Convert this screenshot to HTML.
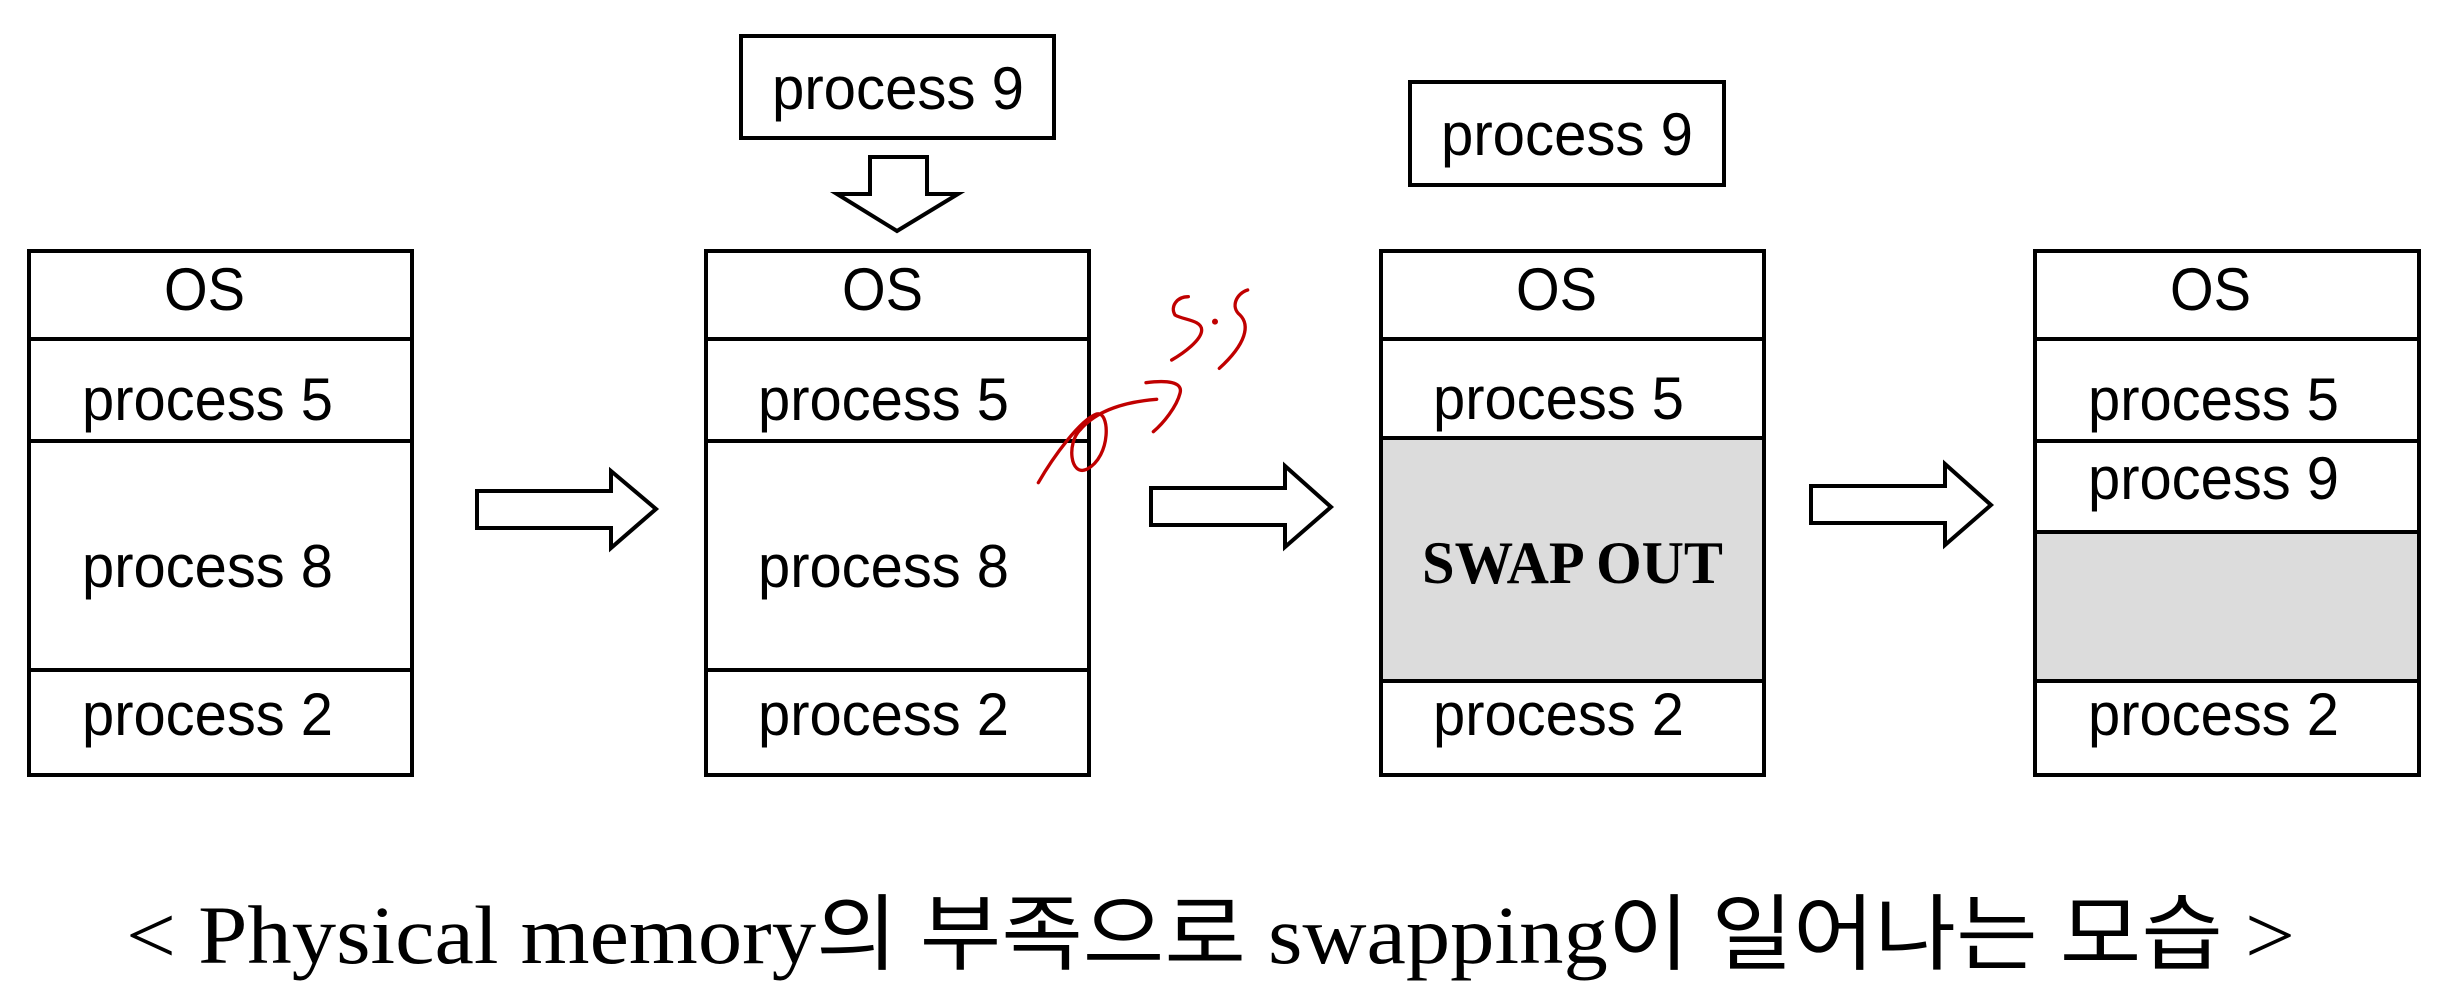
<!DOCTYPE html>
<html><head><meta charset="utf-8"><style>html,body{margin:0;padding:0;background:#fff}svg{display:block}</style></head>
<body>
<svg xmlns="http://www.w3.org/2000/svg" width="2456" height="1000" viewBox="0 0 2456 1000">
<rect width="2456" height="1000" fill="#fff"/>
<g fill="none" stroke="#000" stroke-width="4">
  <rect x="29" y="251" width="383" height="524" fill="#fff"/>
  <line x1="29" y1="339" x2="412" y2="339"/>
  <line x1="29" y1="441" x2="412" y2="441"/>
  <line x1="29" y1="670" x2="412" y2="670"/>
  <rect x="706" y="251" width="383" height="524" fill="#fff"/>
  <line x1="706" y1="339" x2="1089" y2="339"/>
  <line x1="706" y1="441" x2="1089" y2="441"/>
  <line x1="706" y1="670" x2="1089" y2="670"/>
  <rect x="1381" y="251" width="383" height="524" fill="#fff"/>
  <rect x="1381" y="438" width="383" height="243" fill="#dcdcdc"/>
  <line x1="1381" y1="339" x2="1764" y2="339"/>
  <rect x="2035" y="251" width="384" height="524" fill="#fff"/>
  <rect x="2035" y="532" width="384" height="149" fill="#dcdcdc"/>
  <line x1="2035" y1="339" x2="2419" y2="339"/>
  <line x1="2035" y1="441" x2="2419" y2="441"/>
  <rect x="741" y="36" width="313" height="102"/>
  <rect x="1410" y="82" width="314" height="103"/>
  <polygon points="870,157 927,157 927,194 958,194 897,231 837,194 870,194"/>
  <polygon points="477,491 611,491 611,471 656,509 611,548 611,528 477,528"/>
  <polygon points="1151,488 1285,488 1285,466 1331,507 1285,547 1285,525 1151,525"/>
  <polygon points="1811,486 1945,486 1945,464 1991,505 1945,545 1945,523 1811,523"/>
</g>
<g font-family="Liberation Sans, Arial, sans-serif" font-size="60" fill="#000">
  <text x="164" y="310" textLength="81" lengthAdjust="spacingAndGlyphs">OS</text>
  <text x="82" y="420" textLength="251" lengthAdjust="spacingAndGlyphs">process 5</text>
  <text x="82" y="587" textLength="251" lengthAdjust="spacingAndGlyphs">process 8</text>
  <text x="82" y="735" textLength="251" lengthAdjust="spacingAndGlyphs">process 2</text>

  <text x="842" y="310" textLength="81" lengthAdjust="spacingAndGlyphs">OS</text>
  <text x="758" y="420" textLength="251" lengthAdjust="spacingAndGlyphs">process 5</text>
  <text x="758" y="587" textLength="251" lengthAdjust="spacingAndGlyphs">process 8</text>
  <text x="758" y="735" textLength="251" lengthAdjust="spacingAndGlyphs">process 2</text>
  <text x="772" y="109" textLength="252" lengthAdjust="spacingAndGlyphs">process 9</text>

  <text x="1516" y="310" textLength="81" lengthAdjust="spacingAndGlyphs">OS</text>
  <text x="1433" y="419" textLength="251" lengthAdjust="spacingAndGlyphs">process 5</text>
  <text x="1433" y="735" textLength="251" lengthAdjust="spacingAndGlyphs">process 2</text>
  <text x="1441" y="155" textLength="252" lengthAdjust="spacingAndGlyphs">process 9</text>

  <text x="2170" y="310" textLength="81" lengthAdjust="spacingAndGlyphs">OS</text>
  <text x="2088" y="420" textLength="251" lengthAdjust="spacingAndGlyphs">process 5</text>
  <text x="2088" y="499" textLength="251" lengthAdjust="spacingAndGlyphs">process 9</text>
  <text x="2088" y="735" textLength="251" lengthAdjust="spacingAndGlyphs">process 2</text>
</g>
<text x="1422" y="583" font-family="Liberation Serif, Times New Roman, serif" font-weight="bold" font-size="60" textLength="301" lengthAdjust="spacingAndGlyphs">SWAP OUT</text>
<text x="126" y="963" font-family="Liberation Serif, Noto Sans CJK KR, serif" font-size="83" textLength="2169" lengthAdjust="spacingAndGlyphs">&lt; Physical memory의 부족으로 swapping이 일어나는 모습 &gt;</text>
<g transform="translate(1020,270) scale(0.33333)" fill="none" stroke="#c00000" stroke-width="10" stroke-linecap="round">
  <path d="M55,638 C100,560 180,450 230,432 C270,420 275,560 200,598 C150,620 140,520 180,480 C230,420 320,395 410,388"/>
  <path d="M378,338 C440,330 490,335 480,370 C470,410 430,460 400,485"/>
  <path d="M505,80 C470,80 450,110 465,135 C490,150 545,150 545,180 C545,210 490,250 455,270"/>
  <circle cx="585" cy="155" r="4" fill="#c00000"/>
  <path d="M683,60 C650,70 630,110 660,135 C690,165 680,220 598,295"/>
</g>
</svg>
</body></html>
